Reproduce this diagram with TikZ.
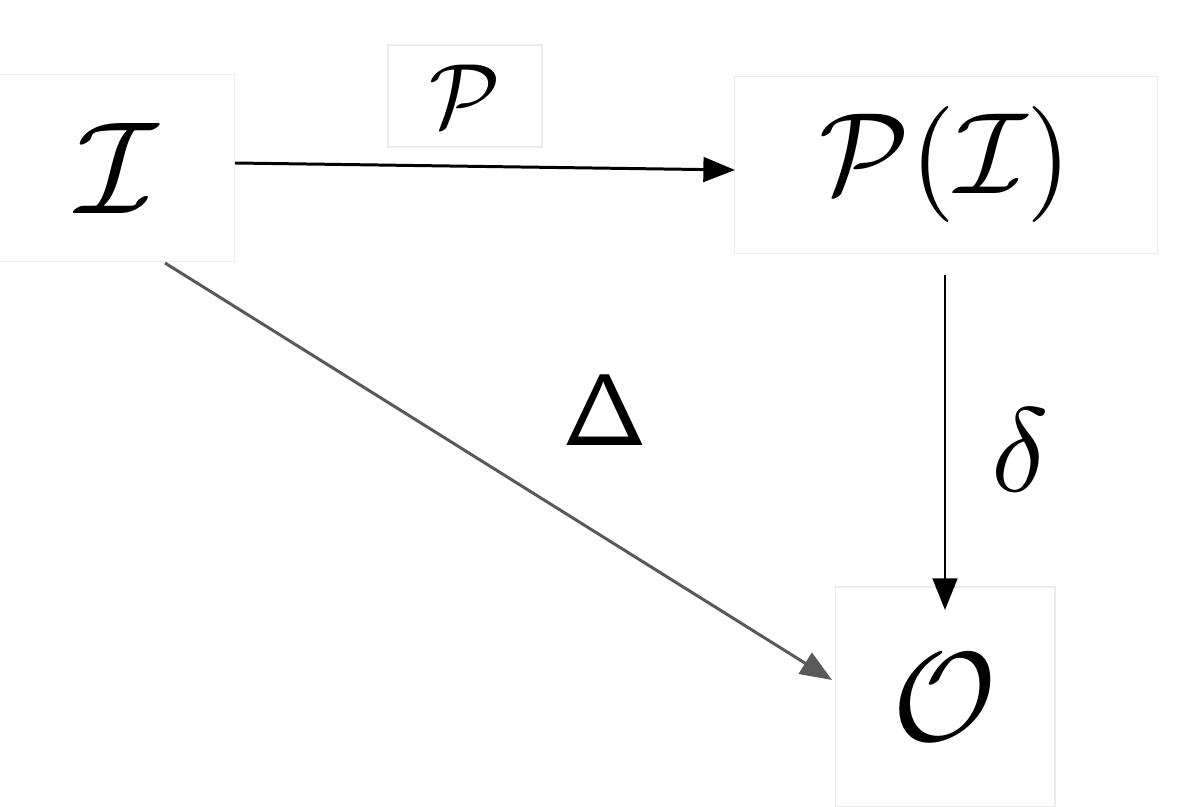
\documentclass[tikz,border=0pt]{standalone}
\usetikzlibrary{arrows.meta}
\begin{document}
\begin{tikzpicture}[x=0.02cm,y=-0.02cm,
  box/.style={draw=black!8,line width=0.6pt,inner sep=0pt},
  arr/.style={line width=1.7pt,-{Triangle[length=18pt,width=14pt]}}]
\useasboundingbox (0,0) rectangle (1198,807);
\node[box,minimum width=4.7cm,minimum height=3.74cm] (I) at (117,168) {\scalebox{7.5}{$\mathcal{I}$}};
\node[box,minimum width=8.46cm,minimum height=3.54cm] (PI) at (946,165) {\scalebox{6.6}{$\mathcal{P}(\mathcal{I})$}};
\node[box,minimum width=4.4cm,minimum height=4.4cm] (O) at (945,697) {\scalebox{7.2}{$\mathcal{O}$}};
\node[box,minimum width=3.08cm,minimum height=2.04cm] (P) at (465,96) {\scalebox{5.2}{$\mathcal{P}$}};
\node (D) at (605,410) {\scalebox{5.8}{$\mathsf{\Delta}$}};
\node (d) at (1020,450) {\scalebox{6.8}{$\delta$}};
\coordinate (a1) at (235,163); \coordinate (a2) at (735,170);
\draw[arr] (a1) -- (a2);
\coordinate (b1) at (945,275); \coordinate (b2) at (945,610);
\draw[arr] (b1) -- (b2);
\coordinate (c1) at (165,263); \coordinate (c2) at (832,680);
\draw[arr,draw=black!65,fill=black!65] (c1) -- (c2);
\end{tikzpicture}
\end{document}
